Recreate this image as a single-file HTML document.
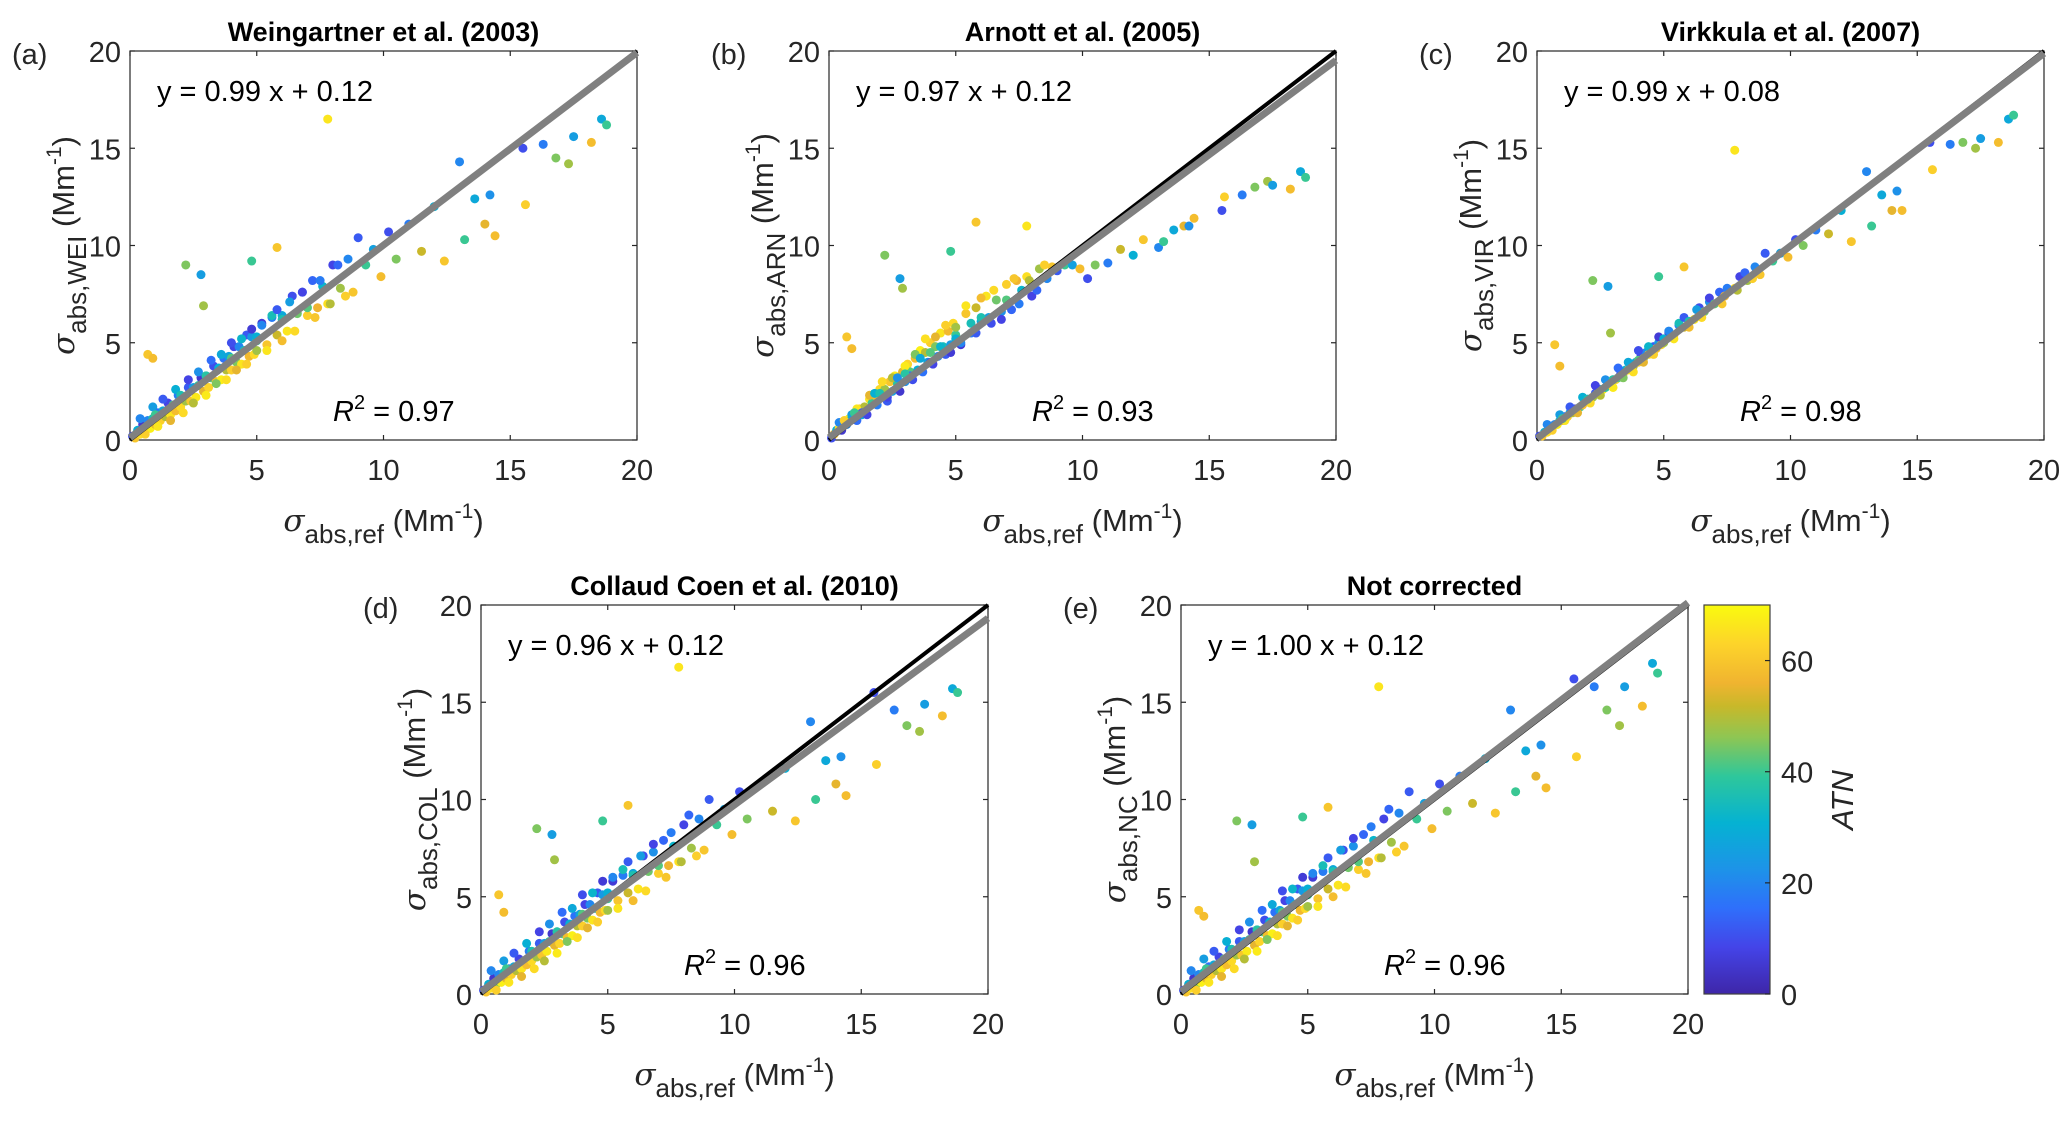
<!DOCTYPE html>
<html><head><meta charset="utf-8">
<style>
html,body{margin:0;padding:0;background:#fff;}
svg{display:block;font-family:"Liberation Sans",Arial,sans-serif;}
</style></head>
<body>
<svg id="fig" width="2067" height="1122" viewBox="0 0 2067 1122" xmlns="http://www.w3.org/2000/svg">
<defs>
<linearGradient id="parula" x1="0" y1="1" x2="0" y2="0">
<stop offset="0" stop-color="#3e26a8"/>
<stop offset="0.12" stop-color="#4444e8"/>
<stop offset="0.22" stop-color="#2f6ffb"/>
<stop offset="0.32" stop-color="#1d93e8"/>
<stop offset="0.44" stop-color="#05b2d2"/>
<stop offset="0.56" stop-color="#2ec79b"/>
<stop offset="0.66" stop-color="#8ec653"/>
<stop offset="0.74" stop-color="#c8b82a"/>
<stop offset="0.8" stop-color="#f0b430"/>
<stop offset="0.9" stop-color="#fdd42a"/>
<stop offset="1" stop-color="#f9fb0e"/>
</linearGradient>
</defs>
</svg>
<script>
// ---- data ----
const refX = [0.1,0.2,0.3,0.4,0.5,0.6,0.7,0.8,0.9,1.0,1.1,1.2,1.3,1.4,1.5,1.6,1.7,1.8,1.9,2.0,2.1,2.2,2.3,2.4,2.5,2.6,2.7,2.8,2.9,3.0,3.1,3.2,3.3,3.4,3.5,3.6,3.7,3.8,3.9,4.0,4.1,4.2,4.3,4.4,4.5,4.6,4.7,4.8,4.9,5.0,5.2,5.4,5.6,5.8,6.0,6.2,6.4,6.6,6.8,7.0,7.2,7.4,7.6,7.8,8.0,8.3,8.6,8.8,9.0,9.3,9.6,9.9,10.2,10.5,11.0,11.5,12.0,12.4,13.0,13.2,13.6,14.0,14.2,14.4,15.5,15.6,16.3,16.8,17.3,17.5,18.2,18.6,18.8,2.2,2.8,2.9,4.8,5.8,7.8,0.7,0.9,
 0.4,0.6,0.9,1.1,1.3,1.6,1.8,2.1,2.3,2.5,2.7,3.0,3.2,3.4,3.6,3.8,4.0,4.2,4.4,4.6,4.8,5.0,5.2,5.4,5.6,5.8,6.0,6.3,6.5,6.8,7.0,7.3,7.5,7.9,8.2,8.5,1.0,2.0,3.0,4.0,5.0,6.0];
const atn = [10,60,30,65,5,45,20,68,35,55,15,62,28,50,8,66,40,58,18,64,33,48,12,60,25,67,38,5,55,22,63,42,10,58,30,68,16,50,27,62,8,45,20,66,35,12,57,24,64,40,6,60,18,52,28,66,10,44,22,62,14,56,32,65,8,48,20,60,12,40,26,58,10,45,18,52,30,60,20,40,28,55,22,58,10,62,18,45,48,25,58,28,40,45,25,48,40,60,66,60,58,
 20,62,25,66,12,55,30,64,8,50,22,67,15,45,28,65,10,55,32,62,6,48,20,66,35,12,58,25,64,8,42,60,18,50,14,62,40,36,38,42,30,36];
const yNC = [0.2,0.1,0.5,0.3,0.8,0.5,1.0,0.6,1.1,0.8,1.4,1.0,1.5,1.2,1.9,1.3,1.8,1.5,2.3,1.7,2.2,2.0,2.7,2.0,2.7,2.2,2.8,3.2,2.5,3.3,2.7,3.2,3.8,3.0,3.7,3.1,4.2,3.6,4.3,3.6,4.8,4.0,4.8,3.9,4.6,5.4,4.3,5.3,4.4,5.1,6.0,4.9,6.3,5.4,6.4,5.6,7.4,6.5,7.6,6.4,8.2,6.8,7.9,7.0,9.0,7.8,9.3,7.6,10.4,9.0,9.8,8.5,10.8,9.4,11.2,9.8,12.1,9.3,14.6,10.4,12.5,11.2,12.8,10.6,16.2,12.2,15.8,14.6,13.8,15.8,14.8,17.0,16.5,8.9,8.7,6.8,9.1,9.6,15.8,4.3,4.0,
 1.2,0.2,1.8,0.6,2.2,0.9,2.7,1.3,3.3,1.8,3.7,2.2,4.3,2.8,4.6,3.0,5.3,3.5,5.4,3.8,6.0,4.5,6.2,4.5,6.6,7.0,5.0,7.4,5.5,8.0,6.8,6.2,8.6,7.0,9.5,7.3,1.3,2.3,3.3,4.2,5.4,6.3];
const yWEI = [0.2,0.1,0.5,0.3,0.8,0.5,1.0,0.6,1.1,0.8,1.4,1.0,1.5,1.2,1.9,1.3,1.8,1.5,2.3,1.7,2.2,2.0,2.7,2.0,2.7,2.2,2.8,3.2,2.5,3.3,2.7,3.2,3.8,3.0,3.7,3.1,4.2,3.6,4.3,3.6,4.8,4.0,4.8,3.9,4.6,5.4,4.3,5.3,4.4,5.1,6.0,4.9,6.3,5.4,6.4,5.6,7.4,6.5,7.6,6.4,8.2,6.8,7.9,7.0,9.0,7.8,9.3,7.6,10.4,9.0,9.8,8.4,10.7,9.3,11.1,9.7,12.0,9.2,14.3,10.3,12.4,11.1,12.6,10.5,15.0,12.1,15.2,14.5,14.2,15.6,15.3,16.5,16.2,9.0,8.5,6.9,9.2,9.9,16.5,4.4,4.2,
 1.1,0.3,1.7,0.7,2.1,1.0,2.6,1.4,3.1,1.9,3.5,2.3,4.1,2.9,4.4,3.1,5.0,3.6,5.2,3.9,5.7,4.6,5.9,4.6,6.4,6.7,5.1,7.1,5.6,7.6,6.8,6.3,8.2,7.0,9.0,7.4,1.3,2.3,3.3,4.2,5.3,6.2];
const yARN = [0.1,0.3,0.5,0.6,0.5,0.8,0.8,1.1,1.1,1.3,1.0,1.6,1.3,1.7,1.3,2.1,1.9,2.3,1.8,2.6,2.2,2.6,2.0,3.0,2.5,3.3,2.9,2.5,3.5,3.0,3.9,3.5,3.1,4.2,3.6,4.6,3.5,4.5,4.0,5.0,3.9,4.8,4.3,5.5,4.8,4.4,5.6,4.9,6.0,5.4,4.9,6.5,5.5,6.8,6.1,7.4,6.0,7.2,6.6,8.0,6.7,8.2,7.7,8.4,7.4,8.8,8.3,8.9,8.7,9.0,9.0,8.8,8.3,9.0,9.1,9.8,9.5,10.3,9.9,10.2,10.8,11.0,11.0,11.4,11.8,12.5,12.6,13.0,13.3,13.1,12.9,13.8,13.5,9.5,8.3,7.8,9.7,11.2,11.0,5.3,4.7,
 0.9,1.0,1.3,1.6,1.4,2.3,2.4,3.0,2.2,3.2,3.2,3.8,3.3,4.4,4.2,5.2,4.0,5.3,4.8,5.9,4.5,5.8,5.0,6.9,6.0,5.5,7.3,6.3,7.7,6.2,7.2,8.3,7.0,8.2,7.7,9.0,1.4,2.4,3.4,4.5,5.2,6.3];
const yVIR = [0.2,0.2,0.4,0.4,0.6,0.6,0.8,0.8,1.0,1.0,1.2,1.2,1.4,1.4,1.6,1.6,1.7,1.8,2.0,2.0,2.1,2.2,2.4,2.4,2.6,2.6,2.7,2.9,2.9,3.1,3.1,3.2,3.4,3.4,3.6,3.6,3.8,3.8,4.0,4.0,4.3,4.2,4.5,4.4,4.6,4.8,4.7,5.0,4.9,5.1,5.5,5.4,5.9,5.8,6.1,6.2,6.8,6.6,7.1,7.0,7.6,7.4,7.7,7.8,8.4,8.2,8.9,8.5,9.6,9.2,9.6,9.4,10.3,10.0,10.8,10.6,11.8,10.2,13.8,11.0,12.6,11.8,12.8,11.8,15.3,13.9,15.2,15.3,15.0,15.5,15.3,16.5,16.7,8.2,7.9,5.5,8.4,8.9,14.9,4.9,3.8,
 0.8,0.5,1.3,1.0,1.7,1.4,2.2,1.9,2.8,2.3,3.1,2.7,3.7,3.2,4.0,3.5,4.6,4.0,4.8,4.4,5.3,5.0,5.6,5.2,6.0,6.3,5.8,6.7,6.3,7.3,7.0,7.0,7.8,7.7,8.6,8.3,1.1,2.1,3.1,4.1,5.2,6.1];
const yCOL = [0.2,0.1,0.5,0.3,0.8,0.5,1.0,0.6,1.1,0.8,1.3,1.0,1.4,1.2,1.8,1.3,1.7,1.5,2.2,1.7,2.1,1.9,2.6,2.0,2.6,2.2,2.7,3.1,2.5,3.2,2.6,3.1,3.7,2.9,3.6,3.0,4.0,3.5,4.1,3.5,4.6,3.9,4.6,3.8,4.4,5.2,4.2,5.1,4.3,4.9,5.8,4.8,6.1,5.2,6.2,5.4,7.1,6.3,7.3,6.2,7.9,6.6,7.6,6.8,8.7,7.5,9.0,7.4,10.0,8.7,9.5,8.2,10.4,9.0,10.8,9.4,11.6,8.9,14.0,10.0,12.0,10.8,12.2,10.2,15.5,11.8,14.6,13.8,13.5,14.9,14.3,15.7,15.5,8.5,8.2,6.9,8.9,9.7,16.8,5.1,4.2,
 1.2,0.2,1.7,0.6,2.1,0.9,2.6,1.3,3.2,1.7,3.6,2.1,4.2,2.7,4.4,2.9,5.1,3.4,5.2,3.7,5.8,4.3,6.0,4.4,6.4,6.8,4.8,7.1,5.3,7.7,6.6,6.0,8.3,6.8,9.2,7.1,1.3,2.2,3.2,4.1,5.2,6.1];
const xTicks = [0,5,10,15,20];
const yTicks = [0,5,10,15,20];
const cbTicks = [0,20,40,60];
const atnMax = 70;

const panels = [
 {id:'a', title:'Weingartner et al. (2003)', ylab:'WEI', ys:yWEI, slope:0.99, icpt:0.12, eq:'y = 0.99 x + 0.12', r2:'0.97', L:130, T:51},
 {id:'b', title:'Arnott et al. (2005)', ylab:'ARN', ys:yARN, slope:0.97, icpt:0.12, eq:'y = 0.97 x + 0.12', r2:'0.93', L:829, T:51},
 {id:'c', title:'Virkkula et al. (2007)', ylab:'VIR', ys:yVIR, slope:0.99, icpt:0.08, eq:'y = 0.99 x + 0.08', r2:'0.98', L:1537, T:51},
 {id:'d', title:'Collaud Coen et al. (2010)', ylab:'COL', ys:yCOL, slope:0.96, icpt:0.12, eq:'y = 0.96 x + 0.12', r2:'0.96', L:481, T:605},
 {id:'e', title:'Not corrected', ylab:'NC', ys:yNC, slope:1.00, icpt:0.12, eq:'y = 1.00 x + 0.12', r2:'0.96', L:1181, T:605}
];
const W = 507, H = 389;
const NS = 'http://www.w3.org/2000/svg';
const svg = document.getElementById('fig');

function mk(tag, attrs, parent, text){
  const e = document.createElementNS(NS, tag);
  for (const k in attrs) e.setAttribute(k, attrs[k]);
  if (text !== undefined) e.textContent = text;
  (parent || svg).appendChild(e);
  return e;
}
const stops = [[0,[62,38,168]],[0.12,[68,68,232]],[0.22,[47,111,251]],[0.32,[29,147,232]],[0.44,[5,178,210]],[0.56,[46,199,155]],[0.66,[142,198,83]],[0.74,[200,184,42]],[0.8,[240,180,48]],[0.9,[253,212,42]],[1,[249,251,14]]];
function parula(v){
  let t = Math.max(0, Math.min(1, v/atnMax));
  for (let i=1;i<stops.length;i++){
    if (t <= stops[i][0]){
      const a=stops[i-1], b=stops[i], f=(t-a[0])/(b[0]-a[0]);
      const c=a[1].map((x,j)=>Math.round(x+(b[1][j]-x)*f));
      return 'rgb('+c.join(',')+')';
    }
  }
  return 'rgb(249,251,14)';
}

panels.forEach(p => {
  const g = mk('g', {}, svg);
  
  
  const sx = v => p.L + v/20*W;
  const sy = v => p.T + H - v/20*H;
  const box = mk('rect', {x:p.L, y:p.T, width:W, height:H, fill:'#fff', stroke:'#262626', 'stroke-width':1.2}, g);
  
  
  xTicks.forEach(t => {
    mk('line', {x1:sx(t), x2:sx(t), y1:p.T+H, y2:p.T+H-5, stroke:'#262626','stroke-width':1.2}, g);
    mk('line', {x1:sx(t), x2:sx(t), y1:p.T, y2:p.T+5, stroke:'#262626','stroke-width':1.2}, g);
    const tl = mk('text', {x:sx(t), y:p.T+H+40, 'text-anchor':'middle', 'font-size':29, fill:'#262626'}, g, String(t));
    
    
  });
  yTicks.forEach(t => {
    mk('line', {x1:p.L, x2:p.L+5, y1:sy(t), y2:sy(t), stroke:'#262626','stroke-width':1.2}, g);
    mk('line', {x1:p.L+W, x2:p.L+W-5, y1:sy(t), y2:sy(t), stroke:'#262626','stroke-width':1.2}, g);
    const tl = mk('text', {x:p.L-9, y:sy(t)+11, 'text-anchor':'end', 'font-size':29, fill:'#262626'}, g, String(t));
    
    
  });
  const pts = mk('g', {}, g);
  
  
  refX.forEach((x,i) => {
    const c = mk('circle', {cx:sx(x), cy:sy(p.ys[i]), r:4.5, fill:parula(atn[i])}, pts);
    
    
  });
  const one = mk('line', {x1:sx(0), y1:sy(0), x2:sx(20), y2:sy(20), stroke:'#000', 'stroke-width':4}, g);
  
  
  const fit = mk('line', {x1:sx(0), y1:sy(p.icpt), x2:sx(20), y2:sy(p.slope*20+p.icpt), stroke:'#808080', 'stroke-width':7}, g);
  
  
  const ti = mk('text', {x:p.L+W/2, y:p.T-10, 'text-anchor':'middle', 'font-size':27, 'font-weight':'bold', fill:'#000'}, g, p.title);
  
  
  const pl = mk('text', {x:p.L-118, y:p.T+13, 'font-size':29, fill:'#262626'}, g, '(' + p.id + ')');
  
  
  const eq = mk('text', {x:p.L+27, y:p.T+50, 'font-size':29, fill:'#000'}, g, p.eq);
  
  
  const r2 = mk('text', {x:p.L+203, y:p.T+370, 'font-size':29, fill:'#000'}, g);
  
  
  mk('tspan', {'font-style':'italic'}, r2, 'R');
  mk('tspan', {dy:-12, 'font-size':20}, r2, '2');
  mk('tspan', {dy:12}, r2, ' = ' + p.r2);
  const xl = mk('text', {x:p.L+W/2, y:p.T+H+91, 'text-anchor':'middle', 'font-size':31, fill:'#262626'}, g);
  
  
  mk('tspan', {'font-style':'italic', 'font-family':'"DejaVu Serif",serif'}, xl, 'σ');
  mk('tspan', {dy:12, 'font-size':26}, xl, 'abs,ref');
  mk('tspan', {dy:-12}, xl, ' (Mm');
  mk('tspan', {dy:-13, 'font-size':21}, xl, '-1');
  mk('tspan', {dy:13}, xl, ')');
  const yl = mk('text', {x:0, y:0, 'text-anchor':'middle', 'font-size':31, fill:'#262626', transform:'translate(' + (p.L-56) + ',' + (p.T+H/2) + ') rotate(-90)'}, g);
  
  
  mk('tspan', {'font-style':'italic', 'font-family':'"DejaVu Serif",serif'}, yl, 'σ');
  mk('tspan', {dy:12, 'font-size':26}, yl, 'abs,' + p.ylab);
  mk('tspan', {dy:-12}, yl, ' (Mm');
  mk('tspan', {dy:-13, 'font-size':21}, yl, '-1');
  mk('tspan', {dy:13}, yl, ')');
});

const cb = mk('g', {}, svg);


const cbL = 1704, cbT = 605, cbW = 66, cbH = 389;
const cbr = mk('rect', {x:cbL, y:cbT, width:cbW, height:cbH, fill:'url(#parula)', stroke:'#404040', 'stroke-width':1.2}, cb);


cbTicks.forEach(t => {
  const y = cbT + cbH - t/atnMax*cbH;
  mk('line', {x1:cbL+cbW, x2:cbL+cbW-5, y1:y, y2:y, stroke:'#262626','stroke-width':1.2}, cb);
  const tl = mk('text', {x:1781, y:y+11, 'font-size':29, fill:'#262626'}, cb, String(t));
  
  
});
const atnl = mk('text', {x:0, y:0, 'text-anchor':'middle', 'font-size':31, 'font-style':'italic', fill:'#262626', transform:'translate(1853,800) rotate(-90)'}, cb, 'ATN');


</script>
</body></html>
